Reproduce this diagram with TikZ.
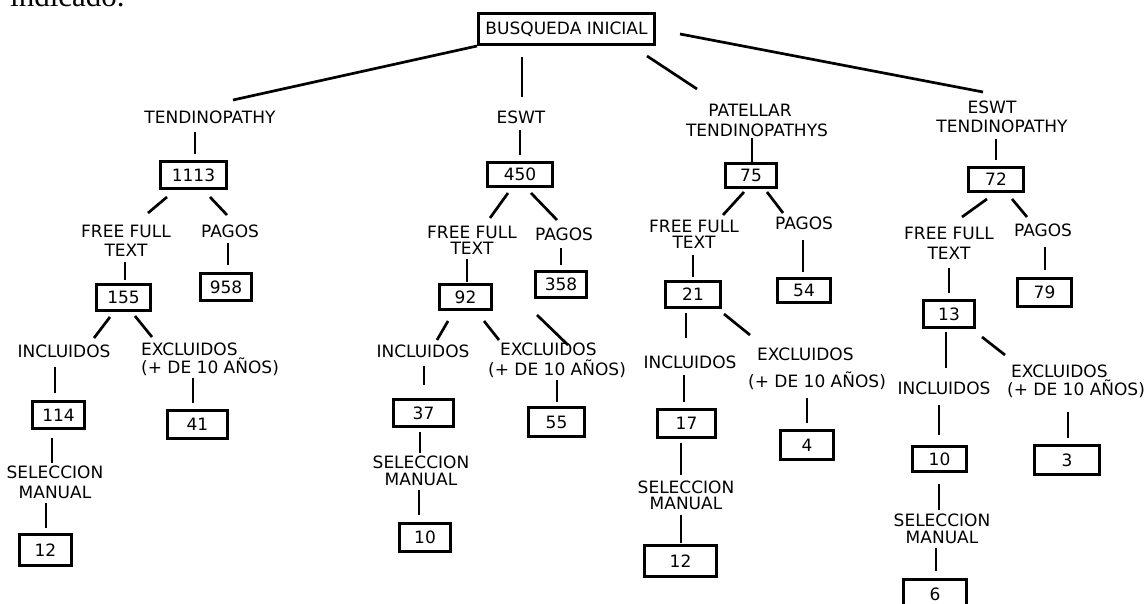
\documentclass[tikz,border=0pt]{standalone}
\usepackage{fontspec}
\setmainfont{DejaVu Sans}
\newfontfamily\serifdoc{Liberation Serif}
\begin{document}
\begin{tikzpicture}[x=1pt,y=-1pt,
  lbl/.style={inner sep=0pt, align=center, font=\fontsize{17}{#1}\selectfont},
  lbl/.default=18,
  exl/.style={inner sep=0pt, align=left, anchor=west, font=\fontsize{17}{#1}\selectfont},
  exl/.default=18,
  bx/.style n args={2}{draw, line width=2.7pt, inner sep=0pt, minimum width=#1, minimum height=#2, font=\fontsize{17}{18}\selectfont},
  conn/.style={line width=2.7pt}]
\useasboundingbox (0,0) rectangle (1145,604);
\fill[white] (0,0) rectangle (1145,604);
\node[anchor=base west, inner sep=0pt, font=\serifdoc\fontsize{31}{31}\selectfont] (ind) at (10,7) {indicado.};

% root
\node[bx={176pt}{31pt}, font=\fontsize{17}{18}\selectfont] (root) at (566.5,29) {BUSQUEDA INICIAL};

% ---------- branch 1
\node[lbl] (tend) at (210,117) {TENDINOPATHY};
\node[bx={66pt}{27pt}] (b1113) at (193.5,175) {1113};
\node[lbl=19] (fft1) at (126,240.5) {FREE FULL\\TEXT};
\node[lbl] (pag1) at (230,231) {PAGOS};
\node[bx={54pt}{26pt}] (b155) at (123.5,297.5) {155};
\node[bx={51pt}{27pt}] (b958) at (226,287) {958};
\node[lbl] (inc1) at (64,351) {INCLUIDOS};
\node[exl=18] (exc1) at (141,359) {EXCLUIDOS\\(+ DE 10 AÑOS)};
\node[bx={52pt}{27pt}] (b114) at (58.5,415) {114};
\node[bx={60pt}{28pt}] (b41) at (197.5,424.5) {41};
\node[lbl=20] (sel1) at (55,482) {SELECCION\\MANUAL};
\node[bx={52pt}{31pt}] (b12a) at (45.5,550) {12};

% ---------- branch 2
\node[lbl] (eswt) at (521,117) {ESWT};
\node[bx={65pt}{24pt}] (b450) at (520,174.5) {450};
\node[lbl=16] (fft2) at (472,240) {FREE FULL\\TEXT};
\node[lbl] (pag2) at (564,234) {PAGOS};
\node[bx={52pt}{25pt}] (b92) at (465.5,297) {92};
\node[bx={51pt}{26pt}] (b358) at (561,284.5) {358};
\node[lbl] (inc2) at (423,351) {INCLUIDOS};
\node[exl=20] (exc2) at (488,360) {\hspace*{12pt}EXCLUIDOS\\(+ DE 10 AÑOS)};
\node[bx={60pt}{27pt}] (b37) at (423.5,413) {37};
\node[bx={56pt}{29pt}] (b55) at (556.5,422) {55};
\node[lbl=17] (sel2) at (421,470.5) {SELECCION\\MANUAL};
\node[bx={51pt}{28pt}] (b10a) at (425,537.5) {10};

% ---------- branch 3
\node[lbl=20] (pat) at (757,120) {PATELLAR\hspace*{14pt}\\TENDINOPATHYS};
\node[bx={51pt}{24pt}] (b75) at (751,175.5) {75};
\node[lbl=16] (fft3) at (694,234) {FREE FULL\\TEXT};
\node[lbl] (pag3) at (804,223) {PAGOS};
\node[bx={55pt}{26pt}] (b21) at (693,294.5) {21};
\node[bx={53pt}{24pt}] (b54) at (804,290.5) {54};
\node[lbl] (inc3) at (690,362) {INCLUIDOS};
\node[exl=27] (exc3) at (748,368.5) {\hspace*{9pt}EXCLUIDOS\\(+ DE 10 AÑOS)};
\node[bx={58pt}{28pt}] (b17) at (686.5,423.5) {17};
\node[bx={53pt}{29pt}] (b4) at (807,445) {4};
\node[lbl=16] (sel3) at (686,495) {SELECCION\\MANUAL};
\node[bx={72pt}{31pt}] (b12c) at (680.5,561) {12};

% ---------- branch 4
\node[lbl=19] (et) at (1002,116.5) {ESWT\hspace*{20pt}\\TENDINOPATHY};
\node[bx={55pt}{24pt}] (b72) at (996,179.5) {72};
\node[lbl=20] (fft4) at (949,243) {FREE FULL\\TEXT};
\node[lbl] (pag4) at (1043,230) {PAGOS};
\node[bx={51pt}{27pt}] (b13) at (949,314) {13};
\node[bx={54pt}{28pt}] (b79) at (1044.5,292.5) {79};
\node[lbl] (inc4) at (944,388) {INCLUIDOS};
\node[exl=18] (exc4) at (1007,381) {\hspace*{4pt}EXCLUIDOS\\(+ DE 10 AÑOS)};
\node[bx={54pt}{25pt}] (b10d) at (939.5,459) {10};
\node[bx={65pt}{29pt}] (b3) at (1067,460) {3};
\node[lbl=17] (sel4) at (942,528.5) {SELECCION\\MANUAL};
\node[bx={63pt}{29pt}] (b6) at (935,594) {6};

% ---------- connectors branch 1
\draw[conn] ([shift={(-89.5,17)}]root.center) -- ([shift={(23,-17)}]tend.center);
\draw[conn] ([shift={(-15,15)}]tend.center) -- ([shift={(1.5,-21)}]b1113.center);
\draw[conn] ([shift={(-26.5,22)}]b1113.center) -- ([shift={(22,-27.5)}]fft1.center);
\draw[conn] ([shift={(16.5,22)}]b1113.center) -- ([shift={(-3,-16)}]pag1.center);
\draw[conn] ([shift={(-1,21.5)}]fft1.center) -- ([shift={(1.5,-17.5)}]b155.center);
\draw[conn] ([shift={(-2,12)}]pag1.center) -- ([shift={(2,-22)}]b958.center);
\draw[conn] ([shift={(-13.5,19.5)}]b155.center) -- ([shift={(30,-13)}]inc1.center);
\draw[conn] ([shift={(11.5,18.5)}]b155.center) -- ([shift={(11,-22)}]exc1.west);
\draw[conn] ([shift={(-9,16)}]inc1.center) -- ([shift={(-3.5,-22)}]b114.center);
\draw[conn] ([shift={(52,19)}]exc1.west) -- ([shift={(-4.5,-21.5)}]b41.center);
\draw[conn] ([shift={(-6.5,23)}]b114.center) -- ([shift={(-3,-19)}]sel1.center);
\draw[conn] ([shift={(-9,21)}]sel1.center) -- ([shift={(0.5,-22)}]b12a.center);

% ---------- connectors branch 2
\draw[conn] ([shift={(-44.5,28)}]root.center) -- ([shift={(1,-20)}]eswt.center);
\draw[conn] ([shift={(-1,13)}]eswt.center) -- ([shift={(0,-19.5)}]b450.center);
\draw[conn] ([shift={(-12,18.5)}]b450.center) -- ([shift={(18,-22)}]fft2.center);
\draw[conn] ([shift={(11,18.5)}]b450.center) -- ([shift={(-7,-14)}]pag2.center);
\draw[conn] ([shift={(-5,19)}]fft2.center) -- ([shift={(1.5,-15)}]b92.center);
\draw[conn] ([shift={(-3,14)}]pag2.center) -- ([shift={(0,-19.5)}]b358.center);
\draw[conn] ([shift={(-17.5,24)}]b92.center) -- ([shift={(14,-11)}]inc2.center);
\draw[conn] ([shift={(18.5,24)}]b92.center) -- ([shift={(11,-20)}]exc2.west);
\draw[conn] ([shift={(-24,30.5)}]b358.center) -- ([shift={(80,-15)}]exc2.west);
\draw[conn] ([shift={(1,15)}]inc2.center) -- ([shift={(0.5,-28)}]b37.center);
\draw[conn] ([shift={(-3.5,19)}]b37.center) -- ([shift={(-1,-17.5)}]sel2.center);
\draw[conn] ([shift={(-2,19.5)}]sel2.center) -- ([shift={(-6,-22.5)}]b10a.center);
\draw[conn] ([shift={(69,20)}]exc2.west) -- ([shift={(0.5,-20)}]b55.center);

% ---------- connectors branch 3
\draw[conn] ([shift={(80.5,27)}]root.center) -- ([shift={(-60,-31)}]pat.center);
\draw[conn] ([shift={(-5,18)}]pat.center) -- ([shift={(1,-13.5)}]b75.center);
\draw[conn] ([shift={(-7,16.5)}]b75.center) -- ([shift={(29,-19)}]fft3.center);
\draw[conn] ([shift={(16,16.5)}]b75.center) -- ([shift={(-21,-10)}]pag3.center);
\draw[conn] ([shift={(-1,21)}]fft3.center) -- ([shift={(0,-17.5)}]b21.center);
\draw[conn] ([shift={(-1,17)}]pag3.center) -- ([shift={(-1,-18.5)}]b54.center);
\draw[conn] ([shift={(-7,18.5)}]b21.center) -- ([shift={(-4,-24)}]inc3.center);
\draw[conn] ([shift={(31,19.5)}]b21.center) -- ([shift={(2,-33.5)}]exc3.west);
\draw[conn] ([shift={(-6,13)}]inc3.center) -- ([shift={(-2.5,-21.5)}]b17.center);
\draw[conn] ([shift={(-5.5,19.5)}]b17.center) -- ([shift={(-5,-20)}]sel3.center);
\draw[conn] ([shift={(-5,20)}]sel3.center) -- ([shift={(0.5,-18)}]b12c.center);
\draw[conn] ([shift={(59,29.5)}]exc3.west) -- ([shift={(0,-22)}]b4.center);

% ---------- connectors branch 4
\draw[conn] ([shift={(113.5,5)}]root.center) -- ([shift={(-19,-24.5)}]et.center);
\draw[conn] ([shift={(-6,22.5)}]et.center) -- ([shift={(0,-19.5)}]b72.center);
\draw[conn] ([shift={(-9,19.5)}]b72.center) -- ([shift={(13,-26)}]fft4.center);
\draw[conn] ([shift={(16,19.5)}]b72.center) -- ([shift={(-16,-13)}]pag4.center);
\draw[conn] ([shift={(0,25)}]fft4.center) -- ([shift={(0,-21)}]b13.center);
\draw[conn] ([shift={(2,17)}]pag4.center) -- ([shift={(0.5,-22.5)}]b79.center);
\draw[conn] ([shift={(-3,18)}]b13.center) -- ([shift={(2,-20)}]inc4.center);
\draw[conn] ([shift={(33,23)}]b13.center) -- ([shift={(-2,-26)}]exc4.west);
\draw[conn] ([shift={(-5,17)}]inc4.center) -- ([shift={(-0.5,-24)}]b10d.center);
\draw[conn] ([shift={(-0.5,25)}]b10d.center) -- ([shift={(-3,-18.5)}]sel4.center);
\draw[conn] ([shift={(-6,19.5)}]sel4.center) -- ([shift={(1,-23)}]b6.center);
\draw[conn] ([shift={(61,31)}]exc4.west) -- ([shift={(1,-22)}]b3.center);
\end{tikzpicture}
\end{document}
